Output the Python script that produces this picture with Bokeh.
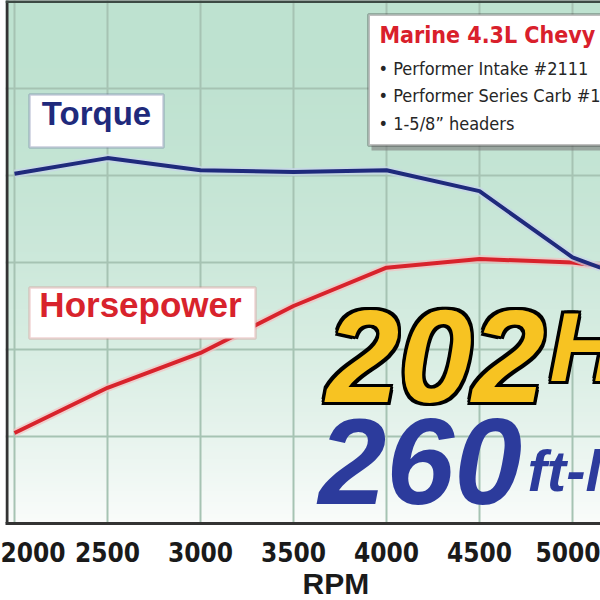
import numpy as np
from bokeh.plotting import figure
from bokeh.models import Range1d, FixedTicker, Label, BoxAnnotation, Span, Title
from bokeh.embed import file_html
from bokeh.resources import INLINE

# ---- data ----
rpm = [2000, 2500, 3000, 3500, 4000, 4500, 5000, 5150]
torque = [251, 260, 253, 252, 253, 241, 203, 197]
horsepower = [102, 128, 148, 175, 197, 202, 200, 198]
rpm_ticks = [2000, 2500, 3000, 3500, 4000, 4500, 5000]
grid_levels = [100, 150, 200, 250, 300]

title_text = "Marine 4.3L Chevy"
bullets = ["• Performer Intake #2111", "• Performer Series Carb #1405", "• 1-5/8\u201d headers"]
x_label = "RPM"

COND = "DejaVu Sans Condensed, Liberation Sans Narrow, sans-serif"

# ---- pixel -> data helpers for annotation placement ----
def sx(px):
    return 2000 + (px - 14) / 0.186

def sy(py):
    return 350 - (py - 1) / 1.74

FL, FB = 5, 523
X0, X1 = sx(FL), sx(600)
Y0, Y1 = sy(FB), sy(0)

p = figure(width=600, height=600, x_range=Range1d(X0, X1), y_range=Range1d(Y0, Y1),
           output_backend="svg", toolbar_location=None,
           min_border_left=FL, min_border_right=0, min_border_top=0, min_border_bottom=600 - FB)
p.outline_line_color = None
p.background_fill_color = "white"
p.border_fill_color = "white"
p.yaxis.visible = False

# background gradient (mint at top fading to white)
n = 256
u = np.linspace(1, 0, n)  # row 0 = bottom
top_c = np.array([190, 226, 208])
bot_c = np.array([250, 252, 251])
cols = top_c + (bot_c - top_c) * (u ** 2)[:, None]
img = np.empty((n, 1), dtype=np.uint32)
view = img.view(dtype=np.uint8).reshape((n, 1, 4))
view[:, 0, 0] = cols[:, 0]
view[:, 0, 1] = cols[:, 1]
view[:, 0, 2] = cols[:, 2]
view[:, 0, 3] = 255
p.image_rgba(image=[img], x=X0, y=Y0, dw=X1 - X0, dh=Y1 - Y0, level="image")

# grid
p.xgrid.ticker = FixedTicker(ticks=rpm_ticks)
p.ygrid.ticker = FixedTicker(ticks=grid_levels)
p.grid.grid_line_color = "#a6c3b3"
p.grid.grid_line_width = 2

# x axis
p.xaxis.ticker = FixedTicker(ticks=rpm_ticks)
p.xaxis.major_label_text_font = COND
p.xaxis.major_label_text_font_style = "bold"
p.xaxis.major_label_text_font_size = "26px"
p.xaxis.major_label_text_color = "#1a1a1a"
p.xaxis.major_tick_line_color = None
p.xaxis.minor_tick_line_color = None
p.xaxis.axis_line_color = "#333333"
p.xaxis.axis_line_width = 3
p.xaxis.major_label_standoff = 12

p.add_layout(Title(text=x_label, align="left", offset=297, text_font="Liberation Sans",
                   text_font_style="bold", text_font_size="30px", text_color="#1a1a1a",
                   standoff=0), "below")

# frame borders (left / top)
p.add_layout(Span(location=sx(6.5), dimension="height", line_color="#333333", line_width=3))
p.add_layout(Span(location=sy(1), dimension="width", line_color="#3d4a44", line_width=3))

# lines
p.line(rpm, horsepower, line_color="#f2c2c2", line_width=8, line_alpha=0.7)
p.line(rpm, horsepower, line_color="#d8232c", line_width=4)
p.line(rpm, torque, line_color="#c8d4ea", line_width=8, line_alpha=0.7)
p.line(rpm, torque, line_color="#1f2a7c", line_width=4)

# legend boxes
p.add_layout(BoxAnnotation(left=sx(29), right=sx(163), top=sy(94), bottom=sy(147),
                           fill_color="white", fill_alpha=1, line_color="#4c5a8e", line_width=2.5))
p.add_layout(Label(x=sx(96), y=sy(131), text="Torque", text_align="center",
                   text_font="Liberation Sans", text_font_style="bold", text_font_size="33px",
                   text_color="#1f2a7c"))
p.add_layout(BoxAnnotation(left=sx(29), right=sx(255), top=sy(287), bottom=sy(338),
                           fill_color="white", fill_alpha=1, line_color="#d27474", line_width=2.5))
p.add_layout(Label(x=sx(140), y=sy(323), text="Horsepower", text_align="center",
                   text_font="Liberation Sans", text_font_style="bold", text_font_size="35px",
                   text_color="#d8232c"))

# info box
p.add_layout(BoxAnnotation(left=sx(371), right=sx(700), top=sy(18), bottom=sy(150),
                           fill_color="#7d7d7d", fill_alpha=0.6, line_color=None))
p.add_layout(BoxAnnotation(left=sx(368), right=sx(700), top=sy(14), bottom=sy(145),
                           fill_color="white", fill_alpha=1, line_color="#2b2b2b", line_width=3))
p.add_layout(Label(x=sx(379), y=sy(47), text=title_text,
                   text_font=COND, text_font_style="bold", text_font_size="23px",
                   text_color="#d9202b"))
for i, b in enumerate(bullets):
    p.add_layout(Label(x=sx(378), y=sy(78 + 27.5 * i), text=b,
                       text_font=COND, text_font_size="18px",
                       text_color="#262626"))

# big numbers (black outline built from offset copies)
def outlined(x, y, text, size, color, w=3):
    for dx, dy in [(-w, 0), (w, 0), (0, -w), (0, w), (-w, -w), (w, w), (-w, w), (w, -w)]:
        p.add_layout(Label(x=x, y=y, x_offset=dx, y_offset=dy, text=text,
                           text_font="Liberation Sans", text_font_style="bold italic",
                           text_font_size=size, text_color="black"))
    p.add_layout(Label(x=x, y=y, text=text,
                       text_font="Liberation Sans", text_font_style="bold italic",
                       text_font_size=size, text_color=color))

outlined(sx(326), sy(401), f"{max(horsepower)}", "131px", "#f7c322")
outlined(sx(549), sy(401), "HP", "98px", "#f7c322")
p.add_layout(Label(x=sx(318), y=sy(503), text=f"{max(torque)}",
                   text_font="Liberation Sans", text_font_style="bold italic", text_font_size="122px",
                   text_color="#2c3b9c"))
p.add_layout(Label(x=sx(527), y=sy(502), text="ft-lbs",
                   text_font="Liberation Sans", text_font_style="bold italic", text_font_size="58px",
                   text_color="#2c3b9c"))

open("out.html", "w").write(file_html(p, INLINE))
